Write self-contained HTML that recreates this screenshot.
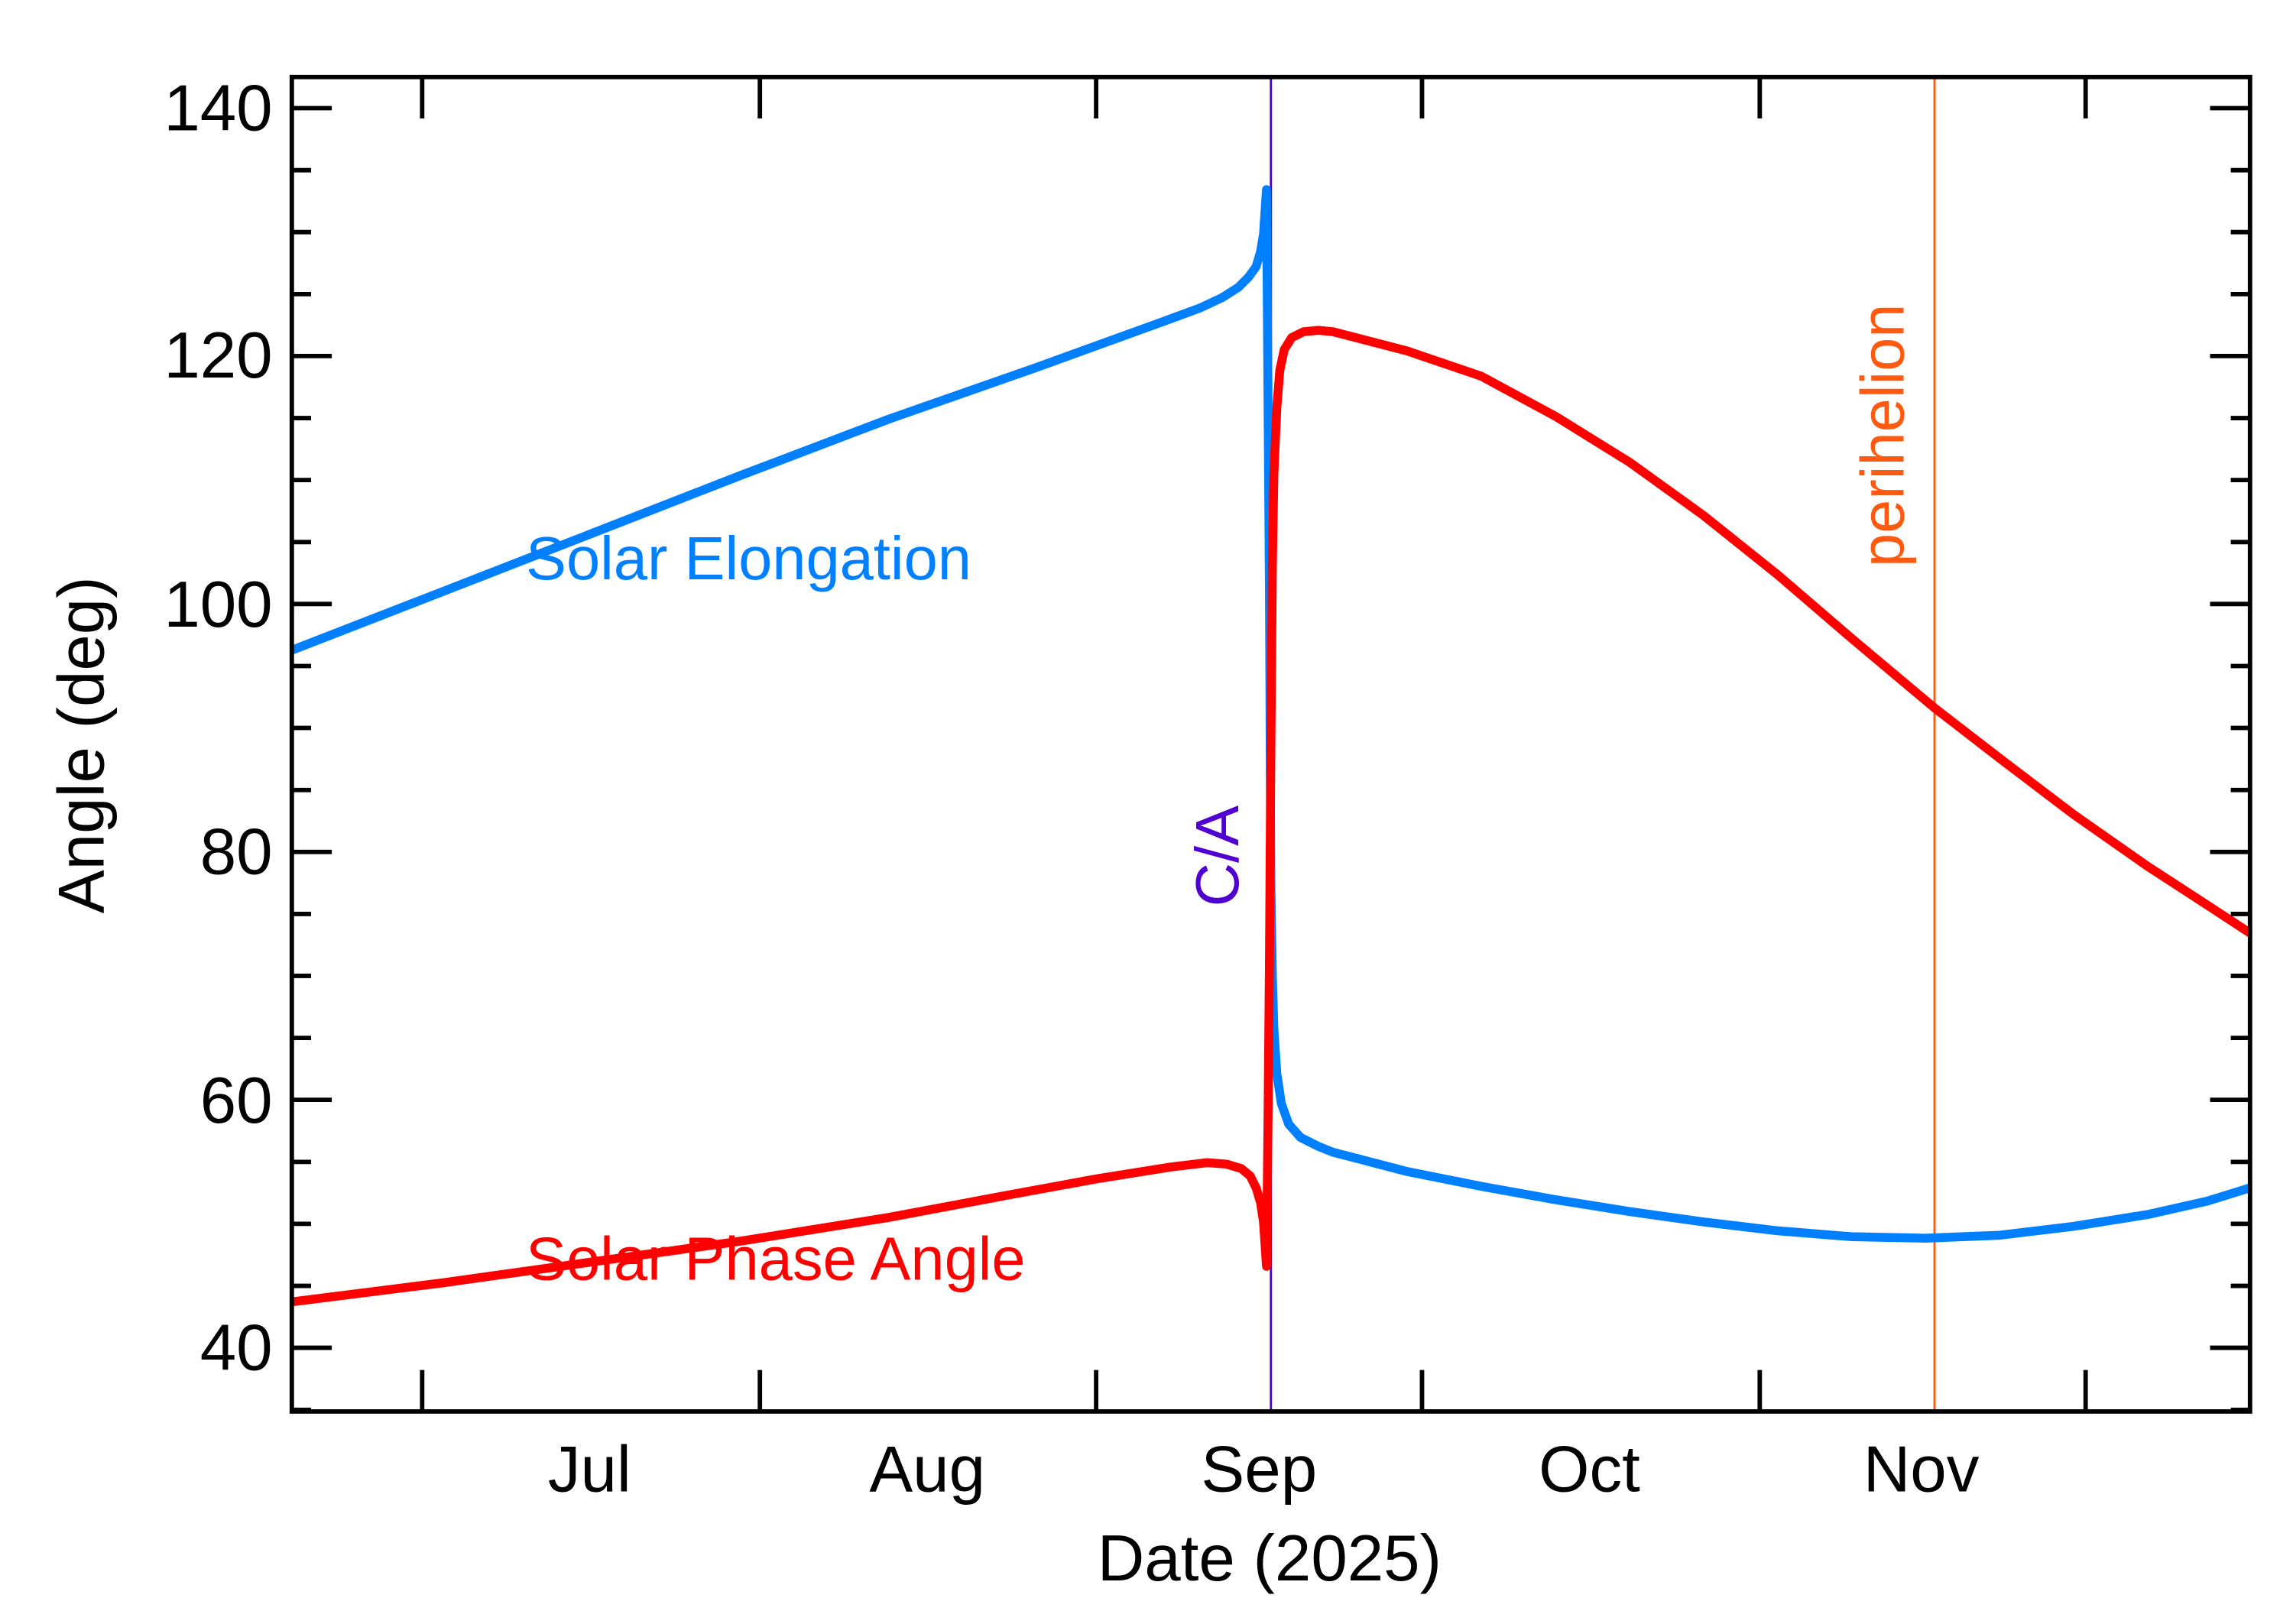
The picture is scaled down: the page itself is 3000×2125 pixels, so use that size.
<!DOCTYPE html>
<html><head><meta charset="utf-8"><style>
html,body{margin:0;padding:0;background:#fff;}
svg{display:block;}
text{font-family:"Liberation Sans",sans-serif;}
</style></head><body>
<svg width="3000" height="2125" viewBox="0 0 1548 1096.5" xmlns="http://www.w3.org/2000/svg">
<rect width="1548" height="1096.5" fill="#fff"/>
<line x1="858" y1="52" x2="858" y2="953" stroke="#5000d0" stroke-width="1.5"/>
<line x1="1306" y1="52" x2="1306" y2="953" stroke="#ff5a10" stroke-width="1.5"/>
<polyline fill="none" stroke="#0080ff" stroke-width="6" stroke-linejoin="round" points="197,439 300,399 400,360 500,321 600,283 700,248 780,219 810,208 825,201 836,194 843,187 848,180 851,170 853,158 855,128 857,400 858,600 859,660 860,695 862,725 865,745 870,759 878,768 890,774 900,778 950,791 1000,801 1050,810 1100,818 1150,825 1200,831 1250,835 1300,836 1350,834 1400,828 1450,820 1490,811 1519,802"/>
<polyline fill="none" stroke="#ff0000" stroke-width="6" stroke-linejoin="round" points="197,879 300,866 400,852 500,838 600,822 680,807 740,796 790,788 815,785 828,786 838,789 844,794 848,802 851,812 853,825 855,855 856,760 857,650 858,500 859,380 860,320 862,275 864,250 867,236 872,228 880,224 890,223 900,224 950,237 1000,254 1050,281 1100,312 1150,348 1200,388 1250,431 1306,478 1350,512 1400,550 1450,585 1490,611 1519,630"/>
<rect x="197" y="52" width="1322" height="901" fill="none" stroke="#000" stroke-width="3"/>
<g stroke="#000" stroke-width="3">
<line x1="285" y1="52" x2="285" y2="80"/><line x1="285" y1="953" x2="285" y2="925"/>
<line x1="513" y1="52" x2="513" y2="80"/><line x1="513" y1="953" x2="513" y2="925"/>
<line x1="740" y1="52" x2="740" y2="80"/><line x1="740" y1="953" x2="740" y2="925"/>
<line x1="960" y1="52" x2="960" y2="80"/><line x1="960" y1="953" x2="960" y2="925"/>
<line x1="1188" y1="52" x2="1188" y2="80"/><line x1="1188" y1="953" x2="1188" y2="925"/>
<line x1="1408" y1="52" x2="1408" y2="80"/><line x1="1408" y1="953" x2="1408" y2="925"/>
<line x1="197" y1="73" x2="224" y2="73"/><line x1="1519" y1="73" x2="1492" y2="73"/>
<line x1="197" y1="240.4" x2="224" y2="240.4"/><line x1="1519" y1="240.4" x2="1492" y2="240.4"/>
<line x1="197" y1="407.8" x2="224" y2="407.8"/><line x1="1519" y1="407.8" x2="1492" y2="407.8"/>
<line x1="197" y1="575.2" x2="224" y2="575.2"/><line x1="1519" y1="575.2" x2="1492" y2="575.2"/>
<line x1="197" y1="742.6" x2="224" y2="742.6"/><line x1="1519" y1="742.6" x2="1492" y2="742.6"/>
<line x1="197" y1="910" x2="224" y2="910"/><line x1="1519" y1="910" x2="1492" y2="910"/>
<line x1="197" y1="114.9" x2="210" y2="114.9"/><line x1="1519" y1="114.9" x2="1506" y2="114.9"/>
<line x1="197" y1="156.7" x2="210" y2="156.7"/><line x1="1519" y1="156.7" x2="1506" y2="156.7"/>
<line x1="197" y1="198.6" x2="210" y2="198.6"/><line x1="1519" y1="198.6" x2="1506" y2="198.6"/>
<line x1="197" y1="282.3" x2="210" y2="282.3"/><line x1="1519" y1="282.3" x2="1506" y2="282.3"/>
<line x1="197" y1="324.1" x2="210" y2="324.1"/><line x1="1519" y1="324.1" x2="1506" y2="324.1"/>
<line x1="197" y1="366" x2="210" y2="366"/><line x1="1519" y1="366" x2="1506" y2="366"/>
<line x1="197" y1="449.7" x2="210" y2="449.7"/><line x1="1519" y1="449.7" x2="1506" y2="449.7"/>
<line x1="197" y1="491.5" x2="210" y2="491.5"/><line x1="1519" y1="491.5" x2="1506" y2="491.5"/>
<line x1="197" y1="533.4" x2="210" y2="533.4"/><line x1="1519" y1="533.4" x2="1506" y2="533.4"/>
<line x1="197" y1="617.1" x2="210" y2="617.1"/><line x1="1519" y1="617.1" x2="1506" y2="617.1"/>
<line x1="197" y1="658.9" x2="210" y2="658.9"/><line x1="1519" y1="658.9" x2="1506" y2="658.9"/>
<line x1="197" y1="700.8" x2="210" y2="700.8"/><line x1="1519" y1="700.8" x2="1506" y2="700.8"/>
<line x1="197" y1="784.5" x2="210" y2="784.5"/><line x1="1519" y1="784.5" x2="1506" y2="784.5"/>
<line x1="197" y1="826.3" x2="210" y2="826.3"/><line x1="1519" y1="826.3" x2="1506" y2="826.3"/>
<line x1="197" y1="868.2" x2="210" y2="868.2"/><line x1="1519" y1="868.2" x2="1506" y2="868.2"/>
<line x1="197" y1="951.9" x2="210" y2="951.9"/><line x1="1519" y1="951.9" x2="1506" y2="951.9"/>
</g>
<g font-size="44" text-anchor="end" fill="#000">
<text x="184" y="88">140</text>
<text x="184" y="255">120</text>
<text x="184" y="423">100</text>
<text x="184" y="590">80</text>
<text x="184" y="758">60</text>
<text x="184" y="925">40</text>
</g>
<g font-size="44" text-anchor="middle" fill="#000">
<text x="398" y="1007">Jul</text>
<text x="626" y="1007">Aug</text>
<text x="850" y="1007">Sep</text>
<text x="1073" y="1007">Oct</text>
<text x="1297" y="1007">Nov</text>
<text x="857" y="1067">Date (2025)</text>
<text transform="translate(70,503) rotate(-90)">Angle (deg)</text>
</g>
<text x="355" y="391" font-size="41" fill="#0080ff">Solar Elongation</text>
<text x="355" y="864" font-size="41" fill="#ff0000">Solar Phase Angle</text>
<text transform="translate(836,578) rotate(-90)" font-size="41" fill="#5000d0" text-anchor="middle">C/A</text>
<text transform="translate(1285,294) rotate(-90)" font-size="41" fill="#ff5a10" text-anchor="middle">perihelion</text>
</svg>
</body></html>
